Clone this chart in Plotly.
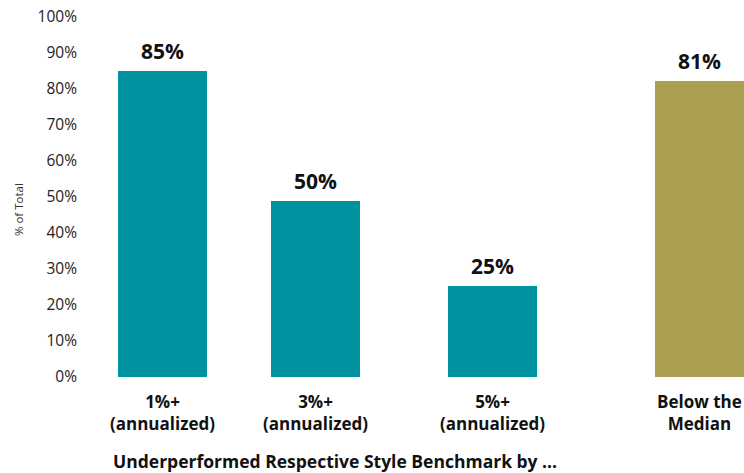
import plotly.graph_objects as go

categories = ["1%+<br>(annualized)", "3%+<br>(annualized)", "5%+<br>(annualized)", "Below the<br>Median"]
values = [85, 49, 25.3, 82.3]
value_labels = ["85%", "50%", "25%", "81%"]
colors = ["#00929F", "#00929F", "#00929F", "#ABA050"]
y_ticks = [0, 10, 20, 30, 40, 50, 60, 70, 80, 90, 100]
y_tick_labels = [f"{t}%" for t in y_ticks]

# layout positions of the bar slots (bar width = 1 unit)
x_pos = [0, 1.72, 3.71, 6.03]

FONT = "Open Sans"

fig = go.Figure()
fig.add_trace(go.Bar(
    x=x_pos, y=values, width=1.0,
    marker=dict(color=colors, line=dict(width=0)),
    hoverinfo="skip",
))

for xp, v, lab in zip(x_pos, values, value_labels):
    fig.add_annotation(x=xp, y=v, text=f"<b>{lab}</b>", showarrow=False,
                       yanchor="bottom", yshift=4,
                       font=dict(family=FONT, size=21, color="#111111"))

for xp, cat in zip(x_pos, categories):
    fig.add_annotation(x=xp, y=0, yref="paper", text=f"<b>{cat}</b>",
                       showarrow=False, yanchor="middle", yshift=-35,
                       font=dict(family=FONT, size=17, color="#111111"))

fig.add_annotation(xref="paper", yref="paper", x=-0.1, y=0.464, xanchor="center",
                   text="% of Total", textangle=-90, showarrow=False,
                   font=dict(family=FONT, size=11.5, color="#333333"))
fig.add_annotation(xref="paper", yref="paper", x=0.38, y=0, yshift=-84,
                   text="<b>Underperformed Respective Style Benchmark by ...</b>",
                   showarrow=False, yanchor="middle",
                   font=dict(family=FONT, size=17.5, color="#111111"))

fig.update_layout(
    width=744, height=473,
    margin=dict(l=85, r=0, t=17, b=96),
    paper_bgcolor="white", plot_bgcolor="white",
    showlegend=False, bargap=0,
    font=dict(family=FONT, color="#222222"),
)
fig.update_xaxes(
    range=[-0.5 - 0.37, 6.53], tickmode="array", tickvals=x_pos,
    showticklabels=False,
    showgrid=False, zeroline=False, showline=False, ticks="",
)
fig.update_yaxes(
    range=[0, 100], tickmode="array", tickvals=y_ticks, ticktext=y_tick_labels,
    tickfont=dict(family=FONT, size=15.5, color="#222222"),
    showgrid=False, zeroline=False, showline=False, ticks="",
    ticklabelstandoff=7,
)

fig.write_html("out.html", config={"displayModeBar": False},
               post_script="document.body.style.margin='0';")
